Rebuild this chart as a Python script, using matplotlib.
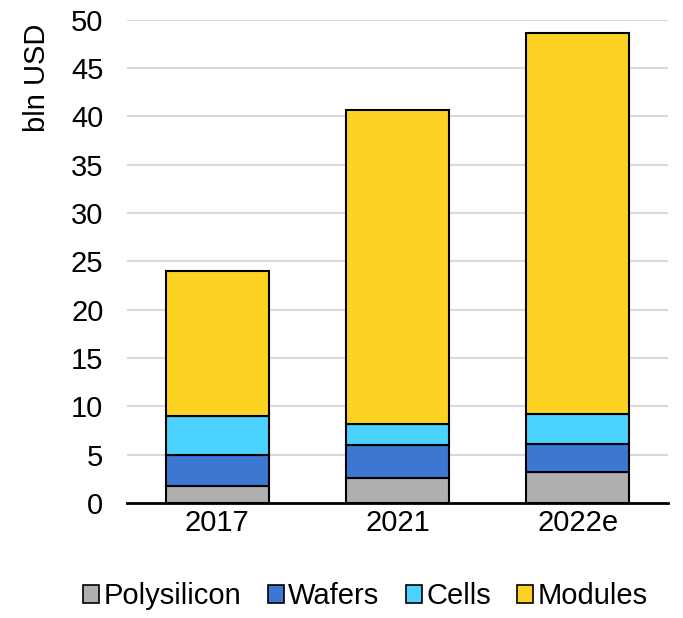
import numpy as np
import matplotlib.pyplot as plt
from matplotlib.patches import Patch

plt.rcParams['font.family'] = ['Liberation Sans', 'DejaVu Sans']

# Value chain segments, bln USD
years = ['2017', '2021', '2022e']
polysilicon = [1.8, 2.55, 3.2]
wafers = [3.2, 3.45, 2.9]
cells = [4.05, 2.15, 3.1]
modules = [15.0, 32.55, 39.4]

segments = ['Polysilicon', 'Wafers', 'Cells', 'Modules']
colors = ['#AFAFAF', '#3C78D2', '#4BD2FF', '#FCD322']

fs = 21

fig = plt.figure(figsize=(6.83, 6.18), dpi=100)
ax = fig.add_axes([0.186, 0.186, 0.792, 0.782])

x = np.arange(len(years))
bottom = np.zeros(len(years))
for vals, c in zip([polysilicon, wafers, cells, modules], colors):
    ax.bar(x, vals, 0.57, bottom=bottom, color=c, edgecolor='black',
           linewidth=1.5, zorder=3)
    bottom += np.array(vals)

ax.set_ylim(0, 50)
ax.set_xlim(-0.5, 2.5)
ax.set_yticks(np.arange(0, 51, 5))
ax.set_xticks(x)
ax.set_xticklabels(years)
ax.tick_params(axis='both', length=0, labelsize=fs)
ax.tick_params(axis='x', pad=4)
ax.tick_params(axis='y', pad=17)
ax.yaxis.grid(True, color='#D9D9D9', linewidth=1.5, zorder=0)
for s in ['top', 'right', 'left']:
    ax.spines[s].set_visible(False)
ax.spines['bottom'].set_linewidth(2)
ax.spines['bottom'].set_zorder(4)
ax.set_ylabel('bln USD', fontsize=fs)
ax.yaxis.set_label_coords(-0.14, 0.88)

handles = [Patch(facecolor=c, edgecolor='black', linewidth=1.2) for c in colors]
fig.legend(handles, segments, loc='lower center', bbox_to_anchor=(0.535, -0.03),
           ncol=4, frameon=False, fontsize=fs, handlelength=0.55,
           handleheight=0.55, handletextpad=0.15, columnspacing=0.9)

fig.savefig('out.png', dpi=100)
